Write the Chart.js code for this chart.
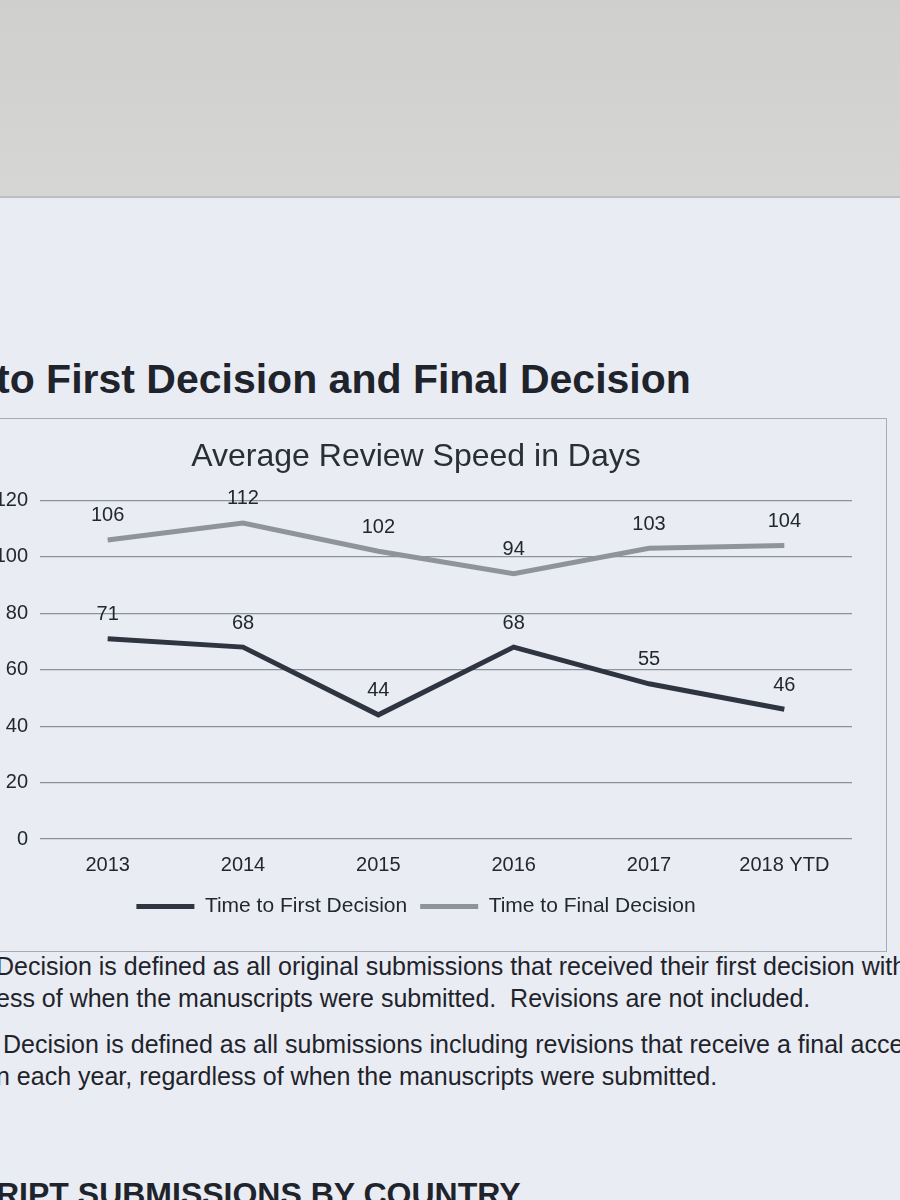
<!DOCTYPE html>
<html>
  <head>
    <meta charset="utf-8" />
    <title>Average Review Speed in Days</title>
    <style>
      html, body { margin: 0; width: 900px; height: 1200px; overflow: hidden; }
      body { background: #e9ecf2; font-family: "Liberation Sans", Arial, sans-serif; color: #23272f; position: relative; }
      .cloth { position: absolute; left: 0; top: 0; width: 900px; height: 196px; background: linear-gradient(#cfcfce, #d6d6d5); }
      .paperEdge { position: absolute; left: 0; top: 196px; width: 900px; height: 2px; background: #b9bdc4; }
      h1 { position: absolute; left: -4px; top: 356px; margin: 0; font-size: 41px; font-weight: bold; white-space: nowrap; color: #1f232b; }
      .box { position: absolute; left: -10px; top: 418px; width: 895px; height: 532px; border: 1px solid #a7acb5; }
      .chartWrap { position: absolute; left: -30px; top: 420px; width: 912px; height: 528px; }
      .note { position: absolute; left: -4px; margin: 0; font-size: 25px; white-space: nowrap; color: #1f232b; }
      .bottomHead { position: absolute; left: -4px; top: 1176px; margin: 0; font-size: 32px; font-weight: bold; white-space: nowrap; color: #1f232b; }
    </style>
  </head>
  <body>
    <div class="cloth"></div>
    <div class="paperEdge"></div>
    <h1>to First Decision and Final Decision</h1>
    <div class="box"></div>
    <div class="chartWrap"><canvas id="myChart"></canvas></div>
    <p class="note" style="top: 952px">Decision is defined as all original submissions that received their first decision with</p>
    <p class="note" style="top: 984px">ess of when the manuscripts were submitted.&nbsp; Revisions are not included.</p>
    <p class="note" style="top: 1030px">&nbsp;Decision is defined as all submissions including revisions that receive a final acce</p>
    <p class="note" style="top: 1062px">n each year, regardless of when the manuscripts were submitted.</p>
    <p class="bottomHead">RIPT SUBMISSIONS BY COUNTRY</p>

    <script src="https://cdn.jsdelivr.net/npm/chart.js@4/dist/chart.umd.min.js"></script>
    <script>
      const years = ["2013", "2014", "2015", "2016", "2017", "2018 YTD"];
      const firstDecision = [71, 68, 44, 68, 55, 46];
      const finalDecision = [106, 112, 102, 94, 103, 104];
      const yTicks = [0, 20, 40, 60, 80, 100, 120];

      // writes each point's value just above it
      const valueLabels = {
        id: "valueLabels",
        afterDatasetsDraw(chart) {
          const ctx = chart.ctx;
          ctx.save();
          ctx.font = '20px "Liberation Sans", Arial, sans-serif';
          ctx.fillStyle = "#23272f";
          ctx.textAlign = "center";
          ctx.textBaseline = "bottom";
          chart.data.datasets.forEach((ds, i) => {
            chart.getDatasetMeta(i).data.forEach((pt, j) => {
              ctx.fillText(ds.data[j], pt.x, pt.y - 14);
            });
          });
          ctx.restore();
        },
      };

      const ctx = document.getElementById("myChart").getContext("2d");
      const myChart = new Chart(ctx, {
        type: "line",
        data: {
          labels: years,
          datasets: [
            {
              label: "Time to First Decision",
              data: firstDecision,
              borderColor: "#2f3540",
              backgroundColor: "#2f3540",
              borderWidth: 5,
              pointRadius: 0,
              tension: 0,
            },
            {
              label: "Time to Final Decision",
              data: finalDecision,
              borderColor: "#8f949c",
              backgroundColor: "#8f949c",
              borderWidth: 5,
              pointRadius: 0,
              tension: 0,
            },
          ],
        },
        options: {
          responsive: true,
          maintainAspectRatio: false,
          animation: false,
          layout: { padding: { left: 10, right: 30, top: 0, bottom: 21 } },
          plugins: {
            tooltip: { enabled: false },
            title: {
              display: true,
              text: "Average Review Speed in Days",
              color: "#2a2e36",
              font: { family: '"Liberation Sans", Arial, sans-serif', size: 32, weight: "normal" },
              padding: { top: 18, bottom: 24 },
            },
            legend: {
              position: "bottom",
              labels: {
                usePointStyle: true,
                pointStyle: "line",
                pointStyleWidth: 58,
                color: "#23272f",
                font: { family: '"Liberation Sans", Arial, sans-serif', size: 21 },
                padding: 13,
              },
            },
          },
          scales: {
            x: {
              offset: true,
              grid: { display: false },
              border: { display: false },
              ticks: {
                color: "#23272f",
                font: { family: '"Liberation Sans", Arial, sans-serif', size: 20 },
                padding: 6,
                maxRotation: 0,
              },
            },
            y: {
              min: 0,
              max: 120,
              afterFit(scale) { scale.width = 60; },
              afterBuildTicks(scale) { scale.ticks = yTicks.map((v) => ({ value: v })); },
              grid: { color: "#8c919b", lineWidth: 1.2, drawTicks: false },
              border: { display: false },
              ticks: {
                color: "#23272f",
                font: { family: '"Liberation Sans", Arial, sans-serif', size: 20 },
                padding: 12,
              },
            },
          },
        },
        plugins: [valueLabels],
      });
    </script>
  </body>
</html>
